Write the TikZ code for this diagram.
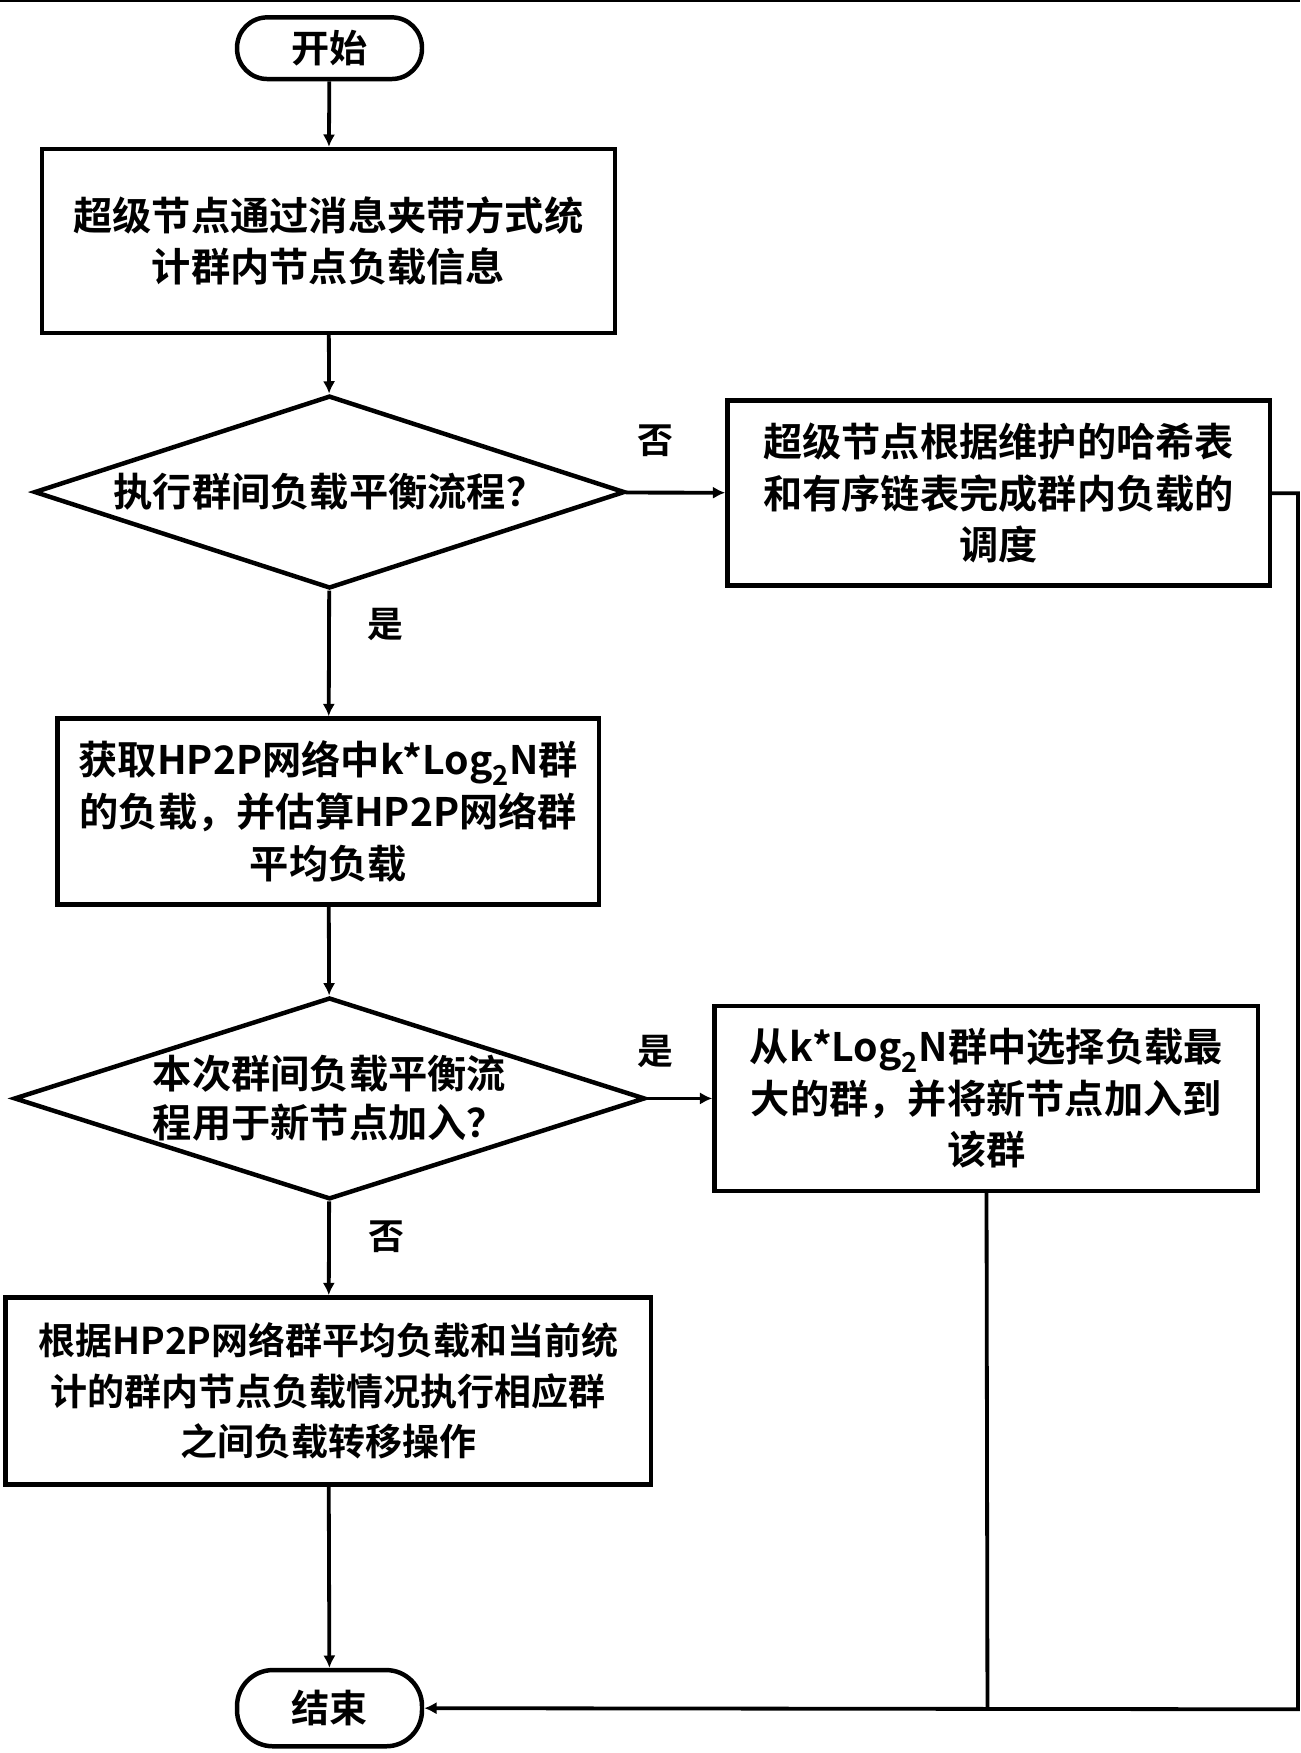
\documentclass[tikz,border=0pt]{standalone}
\usepackage{fontspec}
\setmainfont{Noto Sans CJK SC}[BoldFont={* Bold}]
\usetikzlibrary{shapes.geometric,arrows.meta}

\tikzstyle{term} = [draw, line width=4pt, rounded corners=27pt, minimum width=165pt, inner sep=0pt, font=\fontsize{34}{40}\selectfont\bfseries]
\tikzstyle{box} = [draw, line width=4pt, inner sep=0pt, align=center, font=\fontsize{35}{46}\selectfont\bfseries]
\tikzstyle{dec} = [draw, diamond, line width=4pt, inner sep=0pt]
\tikzstyle{txt} = [align=center, font=\fontsize{35}{44}\selectfont\bfseries]
\tikzstyle{lab} = [font=\fontsize{32}{36}\selectfont\bfseries]
\tikzstyle{arr} = [line width=3.4pt, -{Latex[length=11pt,width=11pt]}]
\tikzstyle{ln} = [line width=3.4pt]

\begin{document}
\begin{tikzpicture}[x=1pt, y=-1pt]
    \useasboundingbox (0,0) rectangle (1160,1564);
    \draw[line width=1.2pt] (0,1) -- (1160,1);
    \node[term, minimum height=55pt] (S) at (294, 43) {开始};
    \node[box, minimum width=511pt, minimum height=164pt] (B1) at (293, 215) {超级节点通过消息夹带方式统\\计群内节点负载信息};
    \node[dec, minimum width=527pt, minimum height=172pt, label={[txt]center:执行群间负载平衡流程？}] (D1) at (294, 439) {};
    \node[box, minimum width=484pt, minimum height=165pt] (B2) at (891, 440) {超级节点根据维护的哈希表\\和有序链表完成群内负载的\\调度};
    \node[box, minimum width=483pt, minimum height=166pt] (B3) at (293, 724) {获取HP2P网络中k*Log\textsubscript{2}N群\\的负载，并估算HP2P网络群\\平均负载};
    \node[dec, minimum width=563pt, minimum height=180pt, label={[txt]center:本次群间负载平衡流\\程用于新节点加入？}] (D2) at (294, 980) {};
    \node[box, minimum width=485pt, minimum height=165pt] (B4) at (880, 980) {从k*Log\textsubscript{2}N群中选择负载最\\大的群，并将新节点加入到\\该群};
    \node[box, minimum width=576pt, minimum height=167pt, font=\fontsize{33}{45}\selectfont\bfseries] (B5) at (293, 1241) {根据HP2P网络群平均负载和当前统\\计的群内节点负载情况执行相应群\\之间负载转移操作};
    \node[term, minimum height=68pt, rounded corners=32pt] (E) at (294, 1524) {结束};
    \coordinate (R) at (1158, 1525);
    \coordinate (J) at (881, 1525);
    \node[lab] (L1) at (585, 393) {否};
    \node[lab] (L2) at (344, 557) {是};
    \node[lab] (L3) at (585, 938) {是};
    \node[lab] (L4) at (345, 1103) {否};
    \draw[arr] (S) -- (B1);
    \draw[arr] (B1) -- (D1);
    \draw[arr] (D1) -- (B2);
    \draw[arr] (D1) -- (B3);
    \draw[arr] (B3) -- (D2);
    \draw[arr] (D2) -- (B4);
    \draw[arr] (D2) -- (B5);
    \draw[arr] (B5) -- (E);
    \draw[ln] (B4) -- (J);
    \draw[arr] (B2.east) -| (R) -- (E.east);
  \end{tikzpicture}
\end{document}
